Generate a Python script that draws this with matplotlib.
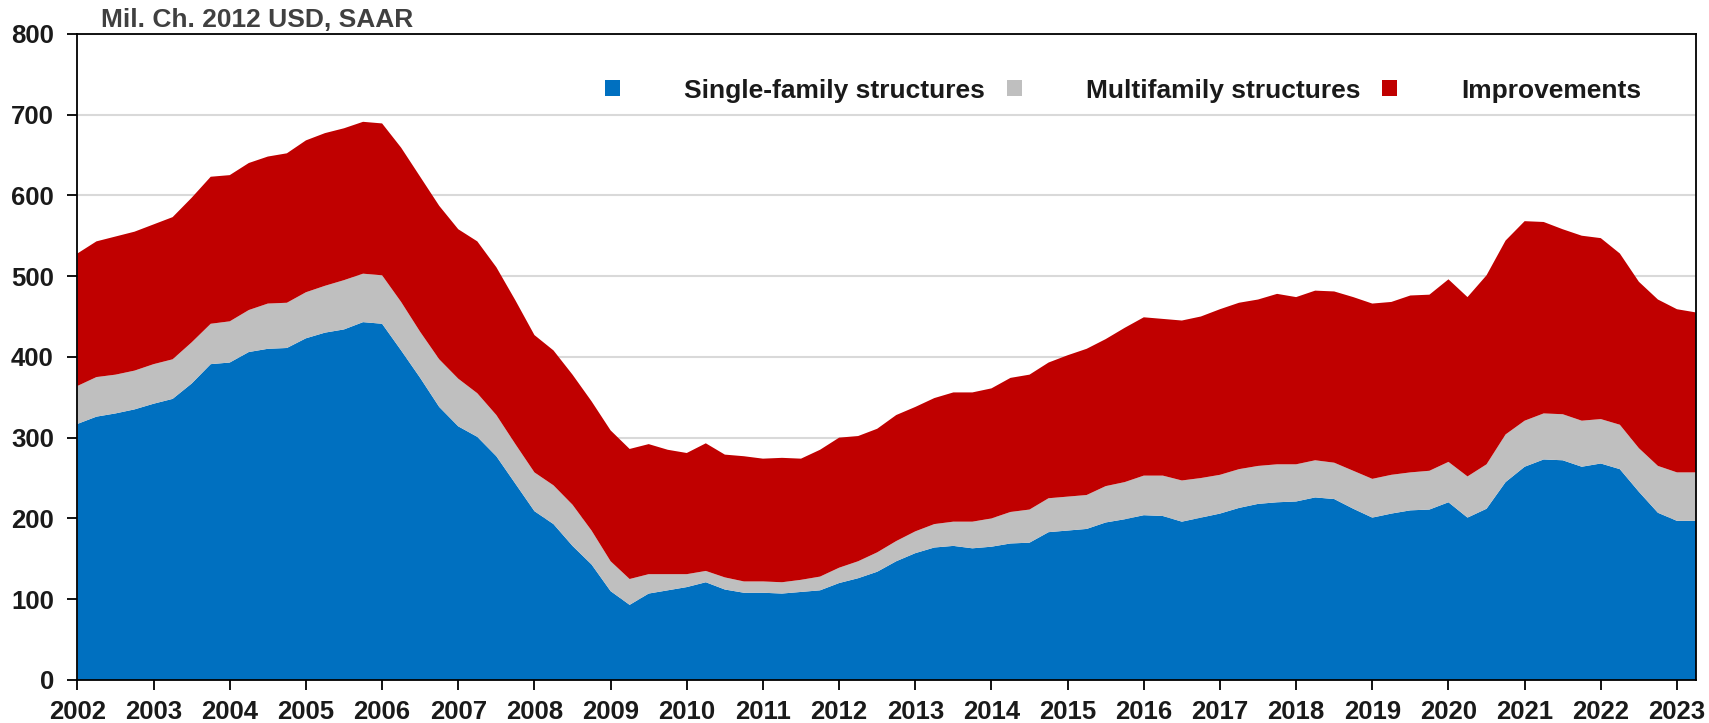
import numpy as np
import matplotlib.pyplot as plt
from matplotlib.patches import Patch

plt.rcParams['font.family'] = ['Liberation Sans', 'DejaVu Sans']

# quarterly, 2002Q1 .. 2023Q2
single_family = [317, 326, 330, 335, 342, 348, 367, 391, 393, 406, 410, 411, 423, 430, 434, 443,
                 441, 408, 374, 338, 314, 301, 277, 243, 209, 193, 166, 143,
                 110, 93, 107, 111, 115, 121, 112, 108, 108, 107, 109, 111,
                 120, 126, 134, 147, 157, 164, 166, 163, 165, 169, 170, 183, 185, 187, 195, 199,
                 204, 203, 196, 201, 206, 213, 218, 220, 221, 226, 224, 212, 201, 206, 210, 211,
                 220, 201, 212, 245, 264, 273, 272, 264, 268, 261, 233, 207, 197, 197]
multifamily = [47, 49, 48, 48, 49, 49, 51, 50, 51, 52, 56, 56, 57, 58, 61, 60,
               60, 60, 57, 59, 59, 54, 51, 49, 48, 48, 51, 42,
               37, 32, 24, 20, 16, 14, 15, 14, 14, 14, 15, 17,
               19, 21, 24, 25, 27, 29, 30, 33, 35, 39, 41, 42, 42, 42, 45, 46,
               49, 50, 51, 49, 48, 48, 47, 47, 46, 46, 45, 47, 48, 48, 47, 48,
               50, 51, 55, 59, 57, 57, 57, 57, 55, 55, 54, 58, 60, 60]
improvements = [164, 168, 171, 172, 173, 176, 179, 182, 181, 182, 182, 185, 188, 189, 188, 188,
                188, 191, 192, 190, 185, 188, 183, 178, 170, 167, 161, 160,
                162, 161, 161, 154, 150, 158, 152, 155, 152, 154, 150, 157,
                161, 155, 153, 156, 154, 156, 160, 160, 161, 166, 167, 168, 175, 181, 182, 191,
                196, 194, 198, 200, 205, 206, 206, 211, 207, 210, 212, 215, 217, 214, 219, 218,
                226, 222, 234, 240, 247, 237, 229, 229, 224, 212, 206, 206, 202, 198]

series_names = ['Single-family structures', 'Multifamily structures', 'Improvements']
colors = ['#0070C0', '#BFBFBF', '#C00000']
years = list(range(2002, 2024))

x = 2002 + np.arange(len(single_family)) / 4

fig = plt.figure(figsize=(17.09, 7.23), dpi=100)
ax = fig.add_axes([0.0453, 0.0595, 0.9471, 0.8938])

ax.stackplot(x, single_family, multifamily, improvements, colors=colors, linewidth=0)

ax.set_xlim(2002, x[-1])
ax.set_ylim(0, 800)
ax.set_xticks(years)
ax.set_yticks(range(0, 801, 100))
ax.yaxis.grid(True, color='#D9D9D9', linewidth=1.5)
ax.set_axisbelow(True)

for lab in ax.get_xticklabels() + ax.get_yticklabels():
    lab.set_fontweight('bold')
ax.tick_params(axis='both', labelsize=18.5, labelcolor='#1a1a1a', direction='out',
               length=7, width=1.3, color='black')
ax.tick_params(axis='x', pad=7.5)
ax.tick_params(axis='y', pad=10)
for sp in ax.spines.values():
    sp.set_color('black')
    sp.set_linewidth(1.3)

fig.text(0.059, 0.972, 'Mil. Ch. 2012 USD, SAAR', fontsize=19, fontweight='bold',
         color='#404040', ha='left', va='center')

handles = [Patch(facecolor=c, edgecolor='none') for c in colors]
leg = ax.legend(handles, series_names, ncol=3, loc='center', bbox_to_anchor=(0.646, 0.912),
                frameon=False, prop={'size': 19, 'weight': 'bold'},
                handlelength=0.57, handleheight=0.57, handletextpad=2.42, columnspacing=0.83)
for t in leg.get_texts():
    t.set_color('#1a1a1a')

fig.savefig('out.png', dpi=100)
